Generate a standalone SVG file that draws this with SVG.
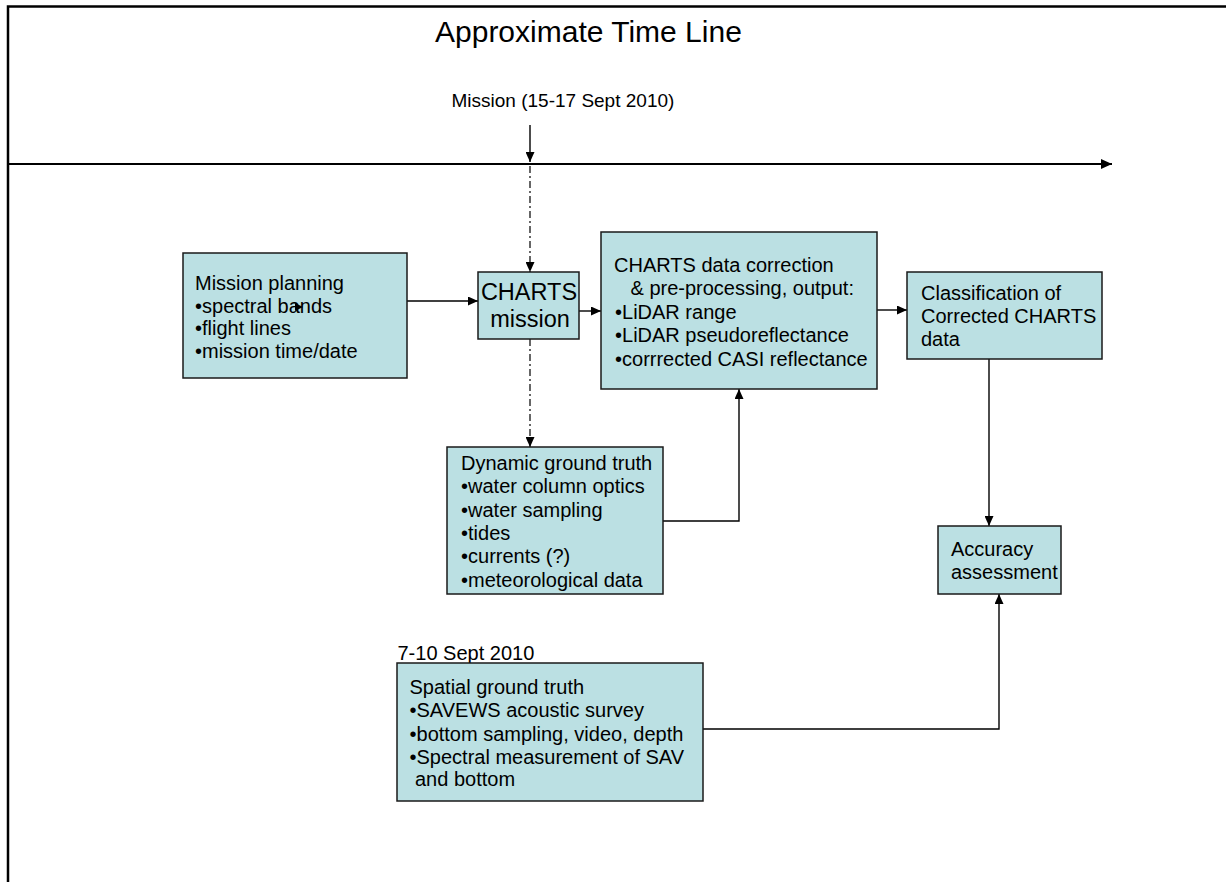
<svg xmlns="http://www.w3.org/2000/svg" width="1226" height="882" viewBox="0 0 1226 882">
<style>
text { font-family: "Liberation Sans", Arial, sans-serif; fill: #000; }
.t { font-size: 20px; }
.box { fill: #BBE0E3; stroke: #1a1a1a; stroke-width: 1.5; }
.c { fill: none; stroke: #000; stroke-width: 1.4; }
.dd { fill: none; stroke: #000; stroke-width: 1.2; stroke-dasharray: 7 3 2 3; }
</style>
<defs>
<marker id="ah" markerWidth="10" markerHeight="9" refX="10" refY="4.5" orient="auto" markerUnits="userSpaceOnUse">
<path d="M0,0 L10,4.5 L0,9 z" fill="#000"/>
</marker>
<marker id="ahb" markerWidth="11" markerHeight="10" refX="11" refY="5" orient="auto" markerUnits="userSpaceOnUse">
<path d="M0,0 L11,5 L0,10 z" fill="#000"/>
</marker>
</defs>
<rect x="0" y="0" width="1226" height="882" fill="#fff"/>
<path d="M8,882 V6.5 H1226" fill="none" stroke="#000" stroke-width="2.5"/>
<text x="435" y="41.5" font-size="30">Approximate Time Line</text>
<text x="451.5" y="106.5" font-size="19">Mission (15-17 Sept 2010)</text>
<text x="397.5" y="659.5" font-size="20">7-10 Sept 2010</text>

<g id="connectors">
<line x1="8" y1="164" x2="1112" y2="164" stroke="#000" stroke-width="2" marker-end="url(#ahb)"/>
<line class="c" x1="530" y1="125" x2="530" y2="162" marker-end="url(#ah)"/>
<line class="dd" x1="530" y1="166" x2="530" y2="272" marker-end="url(#ah)"/>
<line class="dd" x1="530" y1="339" x2="530" y2="447" marker-end="url(#ah)"/>
<line class="c" x1="407" y1="301" x2="478" y2="301" marker-end="url(#ah)"/>
<line class="c" x1="579" y1="311" x2="601" y2="311" marker-end="url(#ah)"/>
<line class="c" x1="877" y1="310" x2="907" y2="310" marker-end="url(#ah)"/>
<line class="c" x1="989" y1="359" x2="989" y2="526" marker-end="url(#ah)"/>
<path class="c" d="M663,521 H739 V389" marker-end="url(#ah)"/>
<path class="c" d="M703,729 H999 V594" marker-end="url(#ah)"/>
</g>

<g id="mission-planning">
<rect class="box" x="183" y="253" width="224" height="125"/>
<text class="t" x="195" y="290">Mission planning</text>
<text class="t" x="195" y="312.5">•spectral bands</text>
<text class="t" x="195" y="335">•flight lines</text>
<text class="t" x="195" y="357.5">•mission time/date</text>
<path d="M295,303 L303,307 L295,311 z" fill="#000"/>
</g>

<g id="charts-mission">
<rect class="box" x="478" y="272" width="101" height="67"/>
<text x="529" y="300" font-size="23.5" text-anchor="middle">CHARTS</text>
<text x="530" y="327" font-size="23.5" text-anchor="middle">mission</text>
</g>

<g id="data-correction">
<rect class="box" x="601" y="232" width="276" height="157"/>
<text class="t" x="614" y="271.5">CHARTS data correction</text>
<text class="t" x="630.5" y="295">&amp; pre-processing, output:</text>
<text class="t" x="615" y="318.5">•LiDAR range</text>
<text class="t" x="615" y="342">•LiDAR pseudoreflectance</text>
<text class="t" x="615" y="365.5">•corrrected CASI reflectance</text>
</g>

<g id="classification">
<rect class="box" x="907" y="272" width="195" height="87"/>
<text class="t" x="921" y="299.5">Classification of</text>
<text class="t" x="921" y="323">Corrected CHARTS</text>
<text class="t" x="921" y="346">data</text>
</g>

<g id="dynamic-ground-truth">
<rect class="box" x="447" y="447" width="216" height="147"/>
<text class="t" x="461" y="469.5">Dynamic ground truth</text>
<text class="t" x="461" y="493">•water column optics</text>
<text class="t" x="461" y="516.5">•water sampling</text>
<text class="t" x="461" y="540">•tides</text>
<text class="t" x="461" y="563">•currents (?)</text>
<text class="t" x="461" y="586.5">•meteorological data</text>
</g>

<g id="accuracy">
<rect class="box" x="938" y="526" width="123" height="68"/>
<text class="t" x="951" y="556">Accuracy</text>
<text class="t" x="951" y="578.5">assessment</text>
</g>

<g id="spatial-ground-truth">
<rect class="box" x="397" y="663" width="306" height="138"/>
<text class="t" x="409.5" y="693.5">Spatial ground truth</text>
<text class="t" x="409.5" y="717">•SAVEWS acoustic survey</text>
<text class="t" x="409.5" y="740.5">•bottom sampling, video, depth</text>
<text class="t" x="409.5" y="764">•Spectral measurement of SAV</text>
<text class="t" x="415" y="786">and bottom</text>
</g>
</svg>
